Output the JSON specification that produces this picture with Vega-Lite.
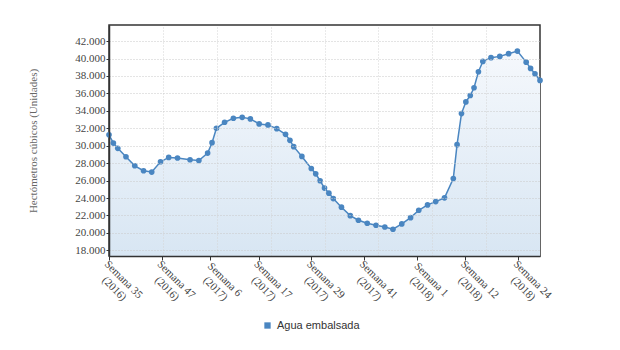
{
  "$schema": "https://vega.github.io/schema/vega-lite/v6.json",
  "width": 431,
  "height": 231,
  "autosize": {"type": "none"},
  "padding": {"left": 109, "top": 25, "right": 80, "bottom": 94},
  "background": "white",
  "config": {
    "view": {"stroke": "#333", "strokeWidth": 1.5},
    "axis": {"labelFont": "Liberation Serif", "titleFont": "Liberation Serif"}
  },
  "data": {
    "values": [
      {"fecha": "2016-08-29", "hm3": 31250, "serie": "Agua embalsada"},
      {"fecha": "2016-09-05", "hm3": 30300, "serie": "Agua embalsada"},
      {"fecha": "2016-09-12", "hm3": 29700, "serie": "Agua embalsada"},
      {"fecha": "2016-09-25", "hm3": 28740, "serie": "Agua embalsada"},
      {"fecha": "2016-10-09", "hm3": 27700, "serie": "Agua embalsada"},
      {"fecha": "2016-10-23", "hm3": 27130, "serie": "Agua embalsada"},
      {"fecha": "2016-11-05", "hm3": 26980, "serie": "Agua embalsada"},
      {"fecha": "2016-11-19", "hm3": 28160, "serie": "Agua embalsada"},
      {"fecha": "2016-12-02", "hm3": 28660, "serie": "Agua embalsada"},
      {"fecha": "2016-12-16", "hm3": 28590, "serie": "Agua embalsada"},
      {"fecha": "2017-01-05", "hm3": 28390, "serie": "Agua embalsada"},
      {"fecha": "2017-01-19", "hm3": 28310, "serie": "Agua embalsada"},
      {"fecha": "2017-02-02", "hm3": 29160, "serie": "Agua embalsada"},
      {"fecha": "2017-02-09", "hm3": 30350, "serie": "Agua embalsada"},
      {"fecha": "2017-02-16", "hm3": 32000, "serie": "Agua embalsada"},
      {"fecha": "2017-03-01", "hm3": 32690, "serie": "Agua embalsada"},
      {"fecha": "2017-03-15", "hm3": 33150, "serie": "Agua embalsada"},
      {"fecha": "2017-03-29", "hm3": 33260, "serie": "Agua embalsada"},
      {"fecha": "2017-04-11", "hm3": 33080, "serie": "Agua embalsada"},
      {"fecha": "2017-04-25", "hm3": 32500, "serie": "Agua embalsada"},
      {"fecha": "2017-05-09", "hm3": 32390, "serie": "Agua embalsada"},
      {"fecha": "2017-05-23", "hm3": 31960, "serie": "Agua embalsada"},
      {"fecha": "2017-06-06", "hm3": 31310, "serie": "Agua embalsada"},
      {"fecha": "2017-06-13", "hm3": 30620, "serie": "Agua embalsada"},
      {"fecha": "2017-06-19", "hm3": 29890, "serie": "Agua embalsada"},
      {"fecha": "2017-07-02", "hm3": 28770, "serie": "Agua embalsada"},
      {"fecha": "2017-07-17", "hm3": 27390, "serie": "Agua embalsada"},
      {"fecha": "2017-07-24", "hm3": 26780, "serie": "Agua embalsada"},
      {"fecha": "2017-07-31", "hm3": 25980, "serie": "Agua embalsada"},
      {"fecha": "2017-08-07", "hm3": 25140, "serie": "Agua embalsada"},
      {"fecha": "2017-08-14", "hm3": 24560, "serie": "Agua embalsada"},
      {"fecha": "2017-08-21", "hm3": 23940, "serie": "Agua embalsada"},
      {"fecha": "2017-09-03", "hm3": 22950, "serie": "Agua embalsada"},
      {"fecha": "2017-09-17", "hm3": 21980, "serie": "Agua embalsada"},
      {"fecha": "2017-09-30", "hm3": 21450, "serie": "Agua embalsada"},
      {"fecha": "2017-10-14", "hm3": 21110, "serie": "Agua embalsada"},
      {"fecha": "2017-10-28", "hm3": 20880, "serie": "Agua embalsada"},
      {"fecha": "2017-11-11", "hm3": 20680, "serie": "Agua embalsada"},
      {"fecha": "2017-11-24", "hm3": 20420, "serie": "Agua embalsada"},
      {"fecha": "2017-12-08", "hm3": 21030, "serie": "Agua embalsada"},
      {"fecha": "2017-12-22", "hm3": 21750, "serie": "Agua embalsada"},
      {"fecha": "2018-01-04", "hm3": 22600, "serie": "Agua embalsada"},
      {"fecha": "2018-01-18", "hm3": 23210, "serie": "Agua embalsada"},
      {"fecha": "2018-01-31", "hm3": 23590, "serie": "Agua embalsada"},
      {"fecha": "2018-02-14", "hm3": 24020, "serie": "Agua embalsada"},
      {"fecha": "2018-02-28", "hm3": 26240, "serie": "Agua embalsada"},
      {"fecha": "2018-03-06", "hm3": 30120, "serie": "Agua embalsada"},
      {"fecha": "2018-03-13", "hm3": 33690, "serie": "Agua embalsada"},
      {"fecha": "2018-03-20", "hm3": 35030, "serie": "Agua embalsada"},
      {"fecha": "2018-03-27", "hm3": 35760, "serie": "Agua embalsada"},
      {"fecha": "2018-04-02", "hm3": 36650, "serie": "Agua embalsada"},
      {"fecha": "2018-04-09", "hm3": 38490, "serie": "Agua embalsada"},
      {"fecha": "2018-04-16", "hm3": 39670, "serie": "Agua embalsada"},
      {"fecha": "2018-04-29", "hm3": 40100, "serie": "Agua embalsada"},
      {"fecha": "2018-05-13", "hm3": 40250, "serie": "Agua embalsada"},
      {"fecha": "2018-05-27", "hm3": 40560, "serie": "Agua embalsada"},
      {"fecha": "2018-06-10", "hm3": 40860, "serie": "Agua embalsada"},
      {"fecha": "2018-06-24", "hm3": 39590, "serie": "Agua embalsada"},
      {"fecha": "2018-07-01", "hm3": 38870, "serie": "Agua embalsada"},
      {"fecha": "2018-07-08", "hm3": 38260, "serie": "Agua embalsada"},
      {"fecha": "2018-07-16", "hm3": 37490, "serie": "Agua embalsada"}
    ]
  },
  "encoding": {
    "y": {
      "field": "hm3",
      "type": "quantitative",
      "scale": {"domain": [17350, 43850], "nice": false, "zero": false},
      "axis": {
        "values": [18000, 20000, 22000, 24000, 26000, 28000, 30000, 32000, 34000, 36000, 38000, 40000, 42000],
        "labelExpr": "replace(format(datum.value, ','), ',', '.')",
        "labelFontSize": 11,
        "labelColor": "#444",
        "labelPadding": 1,
        "tickSize": 3,
        "tickColor": "#333",
        "domainColor": "#333",
        "domainWidth": 1.5,
        "gridColor": "#c8c8c8",
        "gridDash": [1, 2],
        "zindex": 1,
        "title": "Hectómetros cúbicos (Unidades)",
        "titleFontSize": 11,
        "titleFontWeight": "normal",
        "titleColor": "#666",
        "titleX": -71
      }
    }
  },
  "layer": [
    {
      "mark": {
        "type": "area",
        "color": {
          "gradient": "linear",
          "x1": 0, "y1": 0, "x2": 0, "y2": 1,
          "stops": [
            {"offset": 0, "color": "#f5f8fc"},
            {"offset": 1, "color": "#d8e6f3"}
          ]
        }
      },
      "encoding": {
        "x": {
          "field": "fecha",
          "type": "temporal",
          "scale": {"type": "utc", "nice": false},
          "axis": {
            "orient": "bottom",
            "values": [
              {"year": 2016, "month": 8, "date": 29, "utc": true},
              {"year": 2016, "month": 11, "date": 21, "utc": true},
              {"year": 2017, "month": 2, "date": 6, "utc": true},
              {"year": 2017, "month": 4, "date": 24, "utc": true},
              {"year": 2017, "month": 7, "date": 17, "utc": true},
              {"year": 2017, "month": 10, "date": 9, "utc": true},
              {"year": 2018, "month": 1, "date": 1, "utc": true},
              {"year": 2018, "month": 3, "date": 19, "utc": true},
              {"year": 2018, "month": 6, "date": 11, "utc": true}
            ],
            "labelExpr": "['Semana ' + utcFormat(datum.value, '%-V'), '(' + utcFormat(datum.value, '%G') + ')']",
            "labelAngle": 45,
            "labelAlign": "center",
            "labelBaseline": "top",
            "labelOffset": 18,
            "labelPadding": 15,
            "labelLineHeight": 13,
            "labelFontSize": 11,
            "labelColor": "#444",
            "labelOverlap": false,
            "labelBound": false,
            "labelFlush": false,
            "grid": false,
            "tickSize": 4,
            "tickColor": "#333",
            "domainColor": "#333",
            "domainWidth": 1.5,
            "zindex": 1,
            "title": null
          }
        },
        "y2": {"datum": 17350}
      }
    },
    {
      "mark": {"type": "line", "color": "#4a86c1", "strokeWidth": 1.5},
      "encoding": {
        "x": {"field": "fecha", "type": "temporal", "axis": null}
      }
    },
    {
      "mark": {"type": "point", "filled": true, "opacity": 1, "size": 32},
      "encoding": {
        "x": {
          "field": "fecha",
          "type": "temporal",
          "axis": {
            "orient": "top",
            "values": [
              {"year": 2016, "month": 11, "date": 22, "hours": 18, "utc": true},
              {"year": 2017, "month": 2, "date": 16, "hours": 12, "utc": true},
              {"year": 2017, "month": 5, "date": 13, "hours": 6, "utc": true},
              {"year": 2017, "month": 8, "date": 7, "utc": true},
              {"year": 2017, "month": 10, "date": 31, "hours": 18, "utc": true},
              {"year": 2018, "month": 1, "date": 25, "hours": 12, "utc": true},
              {"year": 2018, "month": 4, "date": 21, "hours": 6, "utc": true}
            ],
            "grid": true,
            "gridColor": "#d4d4d4",
            "gridDash": [1, 2],
            "labels": false,
            "ticks": false,
            "domain": false,
            "zindex": 1,
            "title": null
          }
        },
        "color": {
          "field": "serie",
          "type": "nominal",
          "scale": {"range": ["#4a86c1"]},
          "legend": {
            "orient": "none",
            "legendX": 153,
            "legendY": 295,
            "title": null,
            "symbolType": "square",
            "symbolSize": 40,
            "symbolStrokeWidth": 0,
            "labelFont": "Liberation Sans",
            "labelFontSize": 11,
            "labelColor": "#333",
            "labelOffset": 4
          }
        }
      }
    }
  ],
  "resolve": {"axis": {"x": "independent"}}
}
